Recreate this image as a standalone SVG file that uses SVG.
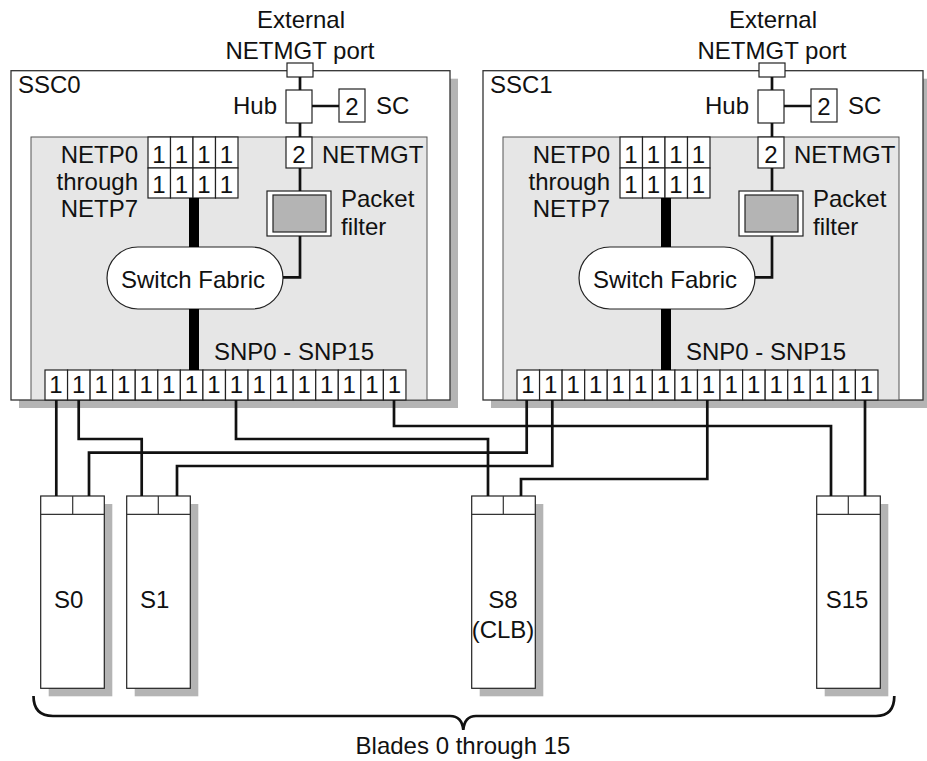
<svg xmlns="http://www.w3.org/2000/svg" width="927" height="761" viewBox="0 0 927 761">
<style>
text{font-family:"Liberation Sans",Arial,sans-serif;font-size:24px;fill:#111}
.m{text-anchor:middle}
.e{text-anchor:end}
.shadow{fill:#b4b4b4;stroke:none}
.outer{fill:#fff;stroke:#333;stroke-width:1.3}
.inner{fill:#e6e6e6;stroke:#555;stroke-width:1}
.box{fill:#fff;stroke:#222;stroke-width:1.2}
.gbox{fill:#b4b4b4;stroke:#222;stroke-width:1.2}
.sf{fill:#fff;stroke:#222;stroke-width:1.2}
.w{fill:none;stroke:#111;stroke-width:2.7;stroke-linejoin:miter}
.bar{fill:none;stroke:#000;stroke-width:10}
.thin{fill:none;stroke:#333;stroke-width:1.2}
.brace{fill:none;stroke:#111;stroke-width:2.7}
</style>
<g id="ssc0">
<rect class="shadow" x="19" y="78.7" width="439" height="329.3"/>
<rect class="outer" x="11" y="70.7" width="439" height="329.3"/>
<rect class="inner" x="31" y="137" width="396" height="263"/>
<text x="18" y="93">SSC0</text>
<text class="m" x="301" y="28">External</text>
<text class="m" x="300" y="59">NETMGT port</text>
<g id="ssc0-port"><rect class="box" x="287" y="63" width="26" height="14"/></g>
<g id="ssc0-hub"><rect class="box" x="286" y="90" width="26" height="33"/><text class="e" x="277" y="114">Hub</text></g>
<g id="ssc0-sc"><rect class="box" x="339" y="89" width="26" height="33"/><text class="m" x="352" y="115">2</text><text x="376" y="114">SC</text></g>
<g id="ssc0-netmgt"><rect class="box" x="286" y="137" width="26" height="31"/><text class="m" x="299" y="163">2</text><text x="322" y="163">NETMGT</text></g>
<g id="ssc0-netp">
<rect class="box" x="148" y="137" width="22.5" height="31"/><rect class="box" x="170.5" y="137" width="22.5" height="31"/><rect class="box" x="193" y="137" width="22.5" height="31"/><rect class="box" x="215.5" y="137" width="22.5" height="31"/>
<rect class="box" x="148" y="168" width="22.5" height="30"/><rect class="box" x="170.5" y="168" width="22.5" height="30"/><rect class="box" x="193" y="168" width="22.5" height="30"/><rect class="box" x="215.5" y="168" width="22.5" height="30"/>
<text class="m" x="159" y="163">1</text><text class="m" x="181.5" y="163">1</text><text class="m" x="204" y="163">1</text><text class="m" x="226.5" y="163">1</text>
<text class="m" x="159" y="193">1</text><text class="m" x="181.5" y="193">1</text><text class="m" x="204" y="193">1</text><text class="m" x="226.5" y="193">1</text>
<text class="e" x="138" y="163">NETP0</text><text class="e" x="138" y="190">through</text><text class="e" x="138" y="217">NETP7</text>
</g>
<g id="ssc0-filter"><rect class="box" x="267" y="191" width="64" height="45"/><rect class="gbox" x="273" y="195" width="53" height="37"/><text x="341" y="207">Packet</text><text x="341" y="235">filter</text></g>
<g id="ssc0-fabric"><rect class="sf" x="107" y="247" width="176" height="62" rx="31" ry="31"/><text class="m" x="193" y="288">Switch Fabric</text></g>
<g id="ssc0-snp">
<text x="214" y="360">SNP0 - SNP15</text>
<rect class="box" x="45" y="370" width="22.56" height="30"/><rect class="box" x="67.56" y="370" width="22.56" height="30"/><rect class="box" x="90.12" y="370" width="22.56" height="30"/><rect class="box" x="112.68" y="370" width="22.56" height="30"/><rect class="box" x="135.24" y="370" width="22.56" height="30"/><rect class="box" x="157.8" y="370" width="22.56" height="30"/><rect class="box" x="180.36" y="370" width="22.56" height="30"/><rect class="box" x="202.92" y="370" width="22.56" height="30"/><rect class="box" x="225.48" y="370" width="22.56" height="30"/><rect class="box" x="248.04" y="370" width="22.56" height="30"/><rect class="box" x="270.6" y="370" width="22.56" height="30"/><rect class="box" x="293.16" y="370" width="22.56" height="30"/><rect class="box" x="315.72" y="370" width="22.56" height="30"/><rect class="box" x="338.28" y="370" width="22.56" height="30"/><rect class="box" x="360.84" y="370" width="22.56" height="30"/><rect class="box" x="383.4" y="370" width="22.56" height="30"/>
<text class="m" x="56" y="393">1</text><text class="m" x="78.6" y="393">1</text><text class="m" x="101.1" y="393">1</text><text class="m" x="123.7" y="393">1</text><text class="m" x="146.3" y="393">1</text><text class="m" x="168.8" y="393">1</text><text class="m" x="191.4" y="393">1</text><text class="m" x="214" y="393">1</text><text class="m" x="236.5" y="393">1</text><text class="m" x="259.1" y="393">1</text><text class="m" x="281.6" y="393">1</text><text class="m" x="304.2" y="393">1</text><text class="m" x="326.8" y="393">1</text><text class="m" x="349.3" y="393">1</text><text class="m" x="371.9" y="393">1</text><text class="m" x="394.4" y="393">1</text>
</g>
</g>
<g id="ssc1" transform="translate(472,0)">
<rect class="shadow" x="19" y="78.7" width="439" height="329.3"/>
<rect class="outer" x="11" y="70.7" width="440" height="329.3"/>
<rect class="inner" x="31" y="137" width="396" height="263"/>
<text x="18" y="93">SSC1</text>
<text class="m" x="301" y="28">External</text>
<text class="m" x="300" y="59">NETMGT port</text>
<g id="ssc1-port"><rect class="box" x="287" y="63" width="26" height="14"/></g>
<g id="ssc1-hub"><rect class="box" x="286" y="90" width="26" height="33"/><text class="e" x="277" y="114">Hub</text></g>
<g id="ssc1-sc"><rect class="box" x="339" y="89" width="26" height="33"/><text class="m" x="352" y="115">2</text><text x="376" y="114">SC</text></g>
<g id="ssc1-netmgt"><rect class="box" x="286" y="137" width="26" height="31"/><text class="m" x="299" y="163">2</text><text x="322" y="163">NETMGT</text></g>
<g id="ssc1-netp">
<rect class="box" x="148" y="137" width="22.5" height="31"/><rect class="box" x="170.5" y="137" width="22.5" height="31"/><rect class="box" x="193" y="137" width="22.5" height="31"/><rect class="box" x="215.5" y="137" width="22.5" height="31"/>
<rect class="box" x="148" y="168" width="22.5" height="30"/><rect class="box" x="170.5" y="168" width="22.5" height="30"/><rect class="box" x="193" y="168" width="22.5" height="30"/><rect class="box" x="215.5" y="168" width="22.5" height="30"/>
<text class="m" x="159" y="163">1</text><text class="m" x="181.5" y="163">1</text><text class="m" x="204" y="163">1</text><text class="m" x="226.5" y="163">1</text>
<text class="m" x="159" y="193">1</text><text class="m" x="181.5" y="193">1</text><text class="m" x="204" y="193">1</text><text class="m" x="226.5" y="193">1</text>
<text class="e" x="138" y="163">NETP0</text><text class="e" x="138" y="190">through</text><text class="e" x="138" y="217">NETP7</text>
</g>
<g id="ssc1-filter"><rect class="box" x="267" y="191" width="64" height="45"/><rect class="gbox" x="273" y="195" width="53" height="37"/><text x="341" y="207">Packet</text><text x="341" y="235">filter</text></g>
<g id="ssc1-fabric"><rect class="sf" x="107" y="247" width="176" height="62" rx="31" ry="31"/><text class="m" x="193" y="288">Switch Fabric</text></g>
<g id="ssc1-snp">
<text x="214" y="360">SNP0 - SNP15</text>
<rect class="box" x="45" y="370" width="22.56" height="30"/><rect class="box" x="67.56" y="370" width="22.56" height="30"/><rect class="box" x="90.12" y="370" width="22.56" height="30"/><rect class="box" x="112.68" y="370" width="22.56" height="30"/><rect class="box" x="135.24" y="370" width="22.56" height="30"/><rect class="box" x="157.8" y="370" width="22.56" height="30"/><rect class="box" x="180.36" y="370" width="22.56" height="30"/><rect class="box" x="202.92" y="370" width="22.56" height="30"/><rect class="box" x="225.48" y="370" width="22.56" height="30"/><rect class="box" x="248.04" y="370" width="22.56" height="30"/><rect class="box" x="270.6" y="370" width="22.56" height="30"/><rect class="box" x="293.16" y="370" width="22.56" height="30"/><rect class="box" x="315.72" y="370" width="22.56" height="30"/><rect class="box" x="338.28" y="370" width="22.56" height="30"/><rect class="box" x="360.84" y="370" width="22.56" height="30"/><rect class="box" x="383.4" y="370" width="22.56" height="30"/>
<text class="m" x="56" y="393">1</text><text class="m" x="78.6" y="393">1</text><text class="m" x="101.1" y="393">1</text><text class="m" x="123.7" y="393">1</text><text class="m" x="146.3" y="393">1</text><text class="m" x="168.8" y="393">1</text><text class="m" x="191.4" y="393">1</text><text class="m" x="214" y="393">1</text><text class="m" x="236.5" y="393">1</text><text class="m" x="259.1" y="393">1</text><text class="m" x="281.6" y="393">1</text><text class="m" x="304.2" y="393">1</text><text class="m" x="326.8" y="393">1</text><text class="m" x="349.3" y="393">1</text><text class="m" x="371.9" y="393">1</text><text class="m" x="394.4" y="393">1</text>
</g>
</g>
<g id="s0"><rect class="shadow" x="48.7" y="504" width="63.6" height="192.3"/><rect class="box" x="40.7" y="496" width="63.6" height="192.3"/><path class="thin" d="M40.7 514.3H104.3M72.7 496V514.3"/><text x="54" y="608">S0</text></g>
<g id="s1"><rect class="shadow" x="134.7" y="504" width="63.6" height="192.3"/><rect class="box" x="126.7" y="496" width="63.6" height="192.3"/><path class="thin" d="M126.7 514.3H190.3M158.3 496V514.3"/><text x="140" y="608">S1</text></g>
<g id="s8"><rect class="shadow" x="479.7" y="504" width="63.6" height="192.3"/><rect class="box" x="471.7" y="496" width="63.6" height="192.3"/><path class="thin" d="M471.7 514.3H535.3M503.3 496V514.3"/><text class="m" x="503" y="608">S8</text><text class="m" x="503" y="638">(CLB)</text></g>
<g id="s15"><rect class="shadow" x="824.7" y="504" width="63.6" height="192.3"/><rect class="box" x="816.7" y="496" width="63.6" height="192.3"/><path class="thin" d="M816.7 514.3H880.3M848.3 496V514.3"/><text class="m" x="847" y="608">S15</text></g>
<g id="blades-label">
<path class="brace" d="M33.5 696Q33.5 716 53 716H450Q462 716 463.3 730Q464.5 716 476 716H876Q894.3 716 894.3 696"/>
<text class="m" x="463" y="754">Blades 0 through 15</text>
</g>
<g id="connectors">
<path class="w" d="M300 77V90M312 106H339M300 123V137M300 168V191M300 236V277.3H283"/>
<path class="bar" d="M194 198V247M194 309V370"/>
<path class="w" d="M772 77V90M784 106H811M772 123V137M772 168V191M772 236V277.3H755"/>
<path class="bar" d="M666 198V247M666 309V370"/>
<path class="w" d="M56.3 400V496"/>
<path class="w" d="M78.7 400V439H141.7V496"/>
<path class="w" d="M236 400V439H488V496"/>
<path class="w" d="M394 400V426H831V496"/>
<path class="w" d="M89 496V452.7H526.7V400"/>
<path class="w" d="M177 496V466H552.3V400"/>
<path class="w" d="M521 496V479H707.3V400"/>
<path class="w" d="M865 496V400"/>
</g>
</svg>
